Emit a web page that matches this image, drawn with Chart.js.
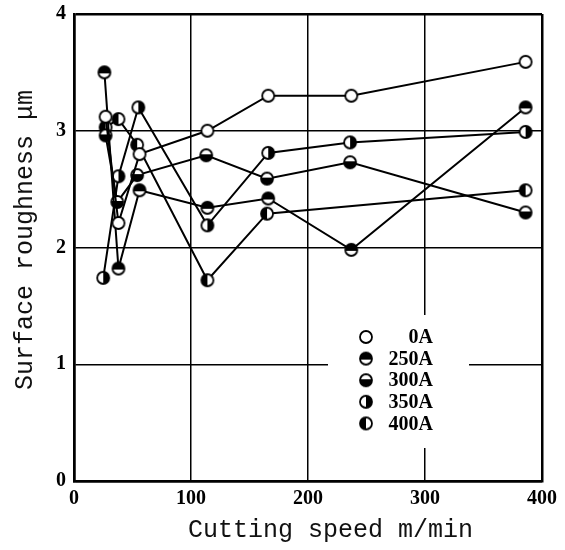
<!DOCTYPE html>
<html>
<head>
<meta charset="utf-8">
<script src="https://cdn.jsdelivr.net/npm/chart.js@4/dist/chart.umd.min.js"></script>
<style>
  body { margin: 0; background: #fff; }
  canvas { display: block; }
</style>
</head>
<body>
<canvas id="chart" width="565" height="550"></canvas>
<script>
// current labels and symbol kind for each series
const currents = ["0A", "250A", "300A", "350A", "400A"];
const symbols = ["open", "top", "bottom", "right", "left"];

// cutting speed (m/min) and surface roughness (um)
const speed0A = [27, 38, 56, 114, 166, 237, 386];
const rough0A = [3.12, 2.21, 2.80, 3.00, 3.30, 3.30, 3.59];

const speed250A = [26, 38, 56, 114, 166, 237, 386];
const rough250A = [3.50, 1.82, 2.49, 2.34, 2.42, 1.98, 3.20];

const speed300A = [27, 37, 54, 113, 165, 236, 386];
const rough300A = [2.96, 2.39, 2.62, 2.79, 2.59, 2.73, 2.30];

const speed350A = [25, 38, 55, 114, 166, 236, 386];
const rough350A = [1.74, 2.61, 3.20, 2.19, 2.81, 2.90, 2.99];

const speed400A = [27, 38, 54, 114, 165, 386];
const rough400A = [3.03, 3.10, 2.88, 1.72, 2.29, 2.49];

const xTicks = [0, 100, 200, 300, 400];
const yTicks = [0, 1, 2, 3, 4];

const speeds = [speed0A, speed250A, speed300A, speed350A, speed400A];
const roughs = [rough0A, rough250A, rough300A, rough350A, rough400A];

// half-filled circle markers
function makeSymbol(kind) {
  const c = document.createElement("canvas");
  c.width = 16; c.height = 16;
  const g = c.getContext("2d");
  const r = 6;
  g.beginPath(); g.arc(8, 8, r, 0, Math.PI * 2);
  g.fillStyle = "#fff"; g.fill();
  if (kind !== "open") {
    g.save();
    g.beginPath(); g.arc(8, 8, r, 0, Math.PI * 2); g.clip();
    g.fillStyle = "#000";
    if (kind === "top") g.fillRect(0, 0, 16, 9);
    if (kind === "bottom") g.fillRect(0, 7, 16, 9);
    if (kind === "right") g.fillRect(8, 0, 8, 16);
    if (kind === "left") g.fillRect(0, 0, 8, 16);
    g.restore();
  }
  g.beginPath(); g.arc(8, 8, r, 0, Math.PI * 2);
  g.lineWidth = 1.8; g.strokeStyle = "#000"; g.stroke();
  return c;
}

const markers = symbols.map(makeSymbol);

const datasets = currents.map((name, i) => ({
  label: name,
  data: speeds[i].map((s, j) => ({ x: s, y: roughs[i][j] })),
  showLine: true,
  borderColor: "#000",
  borderWidth: 2,
  pointStyle: markers[i],
  pointRadius: 6,
  tension: 0
}));

// legend drawn inside the plot on a white patch
const legendBox = {
  id: "legendBox",
  beforeDatasetsDraw(chart) {
    const ctx = chart.ctx;
    ctx.save();
    ctx.fillStyle = "#fff";
    ctx.fillRect(328, 315, 141, 133);
    ctx.font = "bold 20px 'Liberation Serif'";
    ctx.fillStyle = "#000";
    ctx.textAlign = "right";
    ctx.textBaseline = "middle";
    currents.forEach((name, i) => {
      const y = 337 + i * 21.6;
      ctx.drawImage(markers[i], 366 - 8, y - 8);
      ctx.fillText(name, 433, y + 1);
    });
    ctx.restore();
  }
};

const frameWidth = v => (v === 0 || v === 400 || v === 4 ? 2.5 : 1.5);

new Chart(document.getElementById("chart"), {
  type: "scatter",
  data: { datasets },
  options: {
    responsive: false,
    animation: false,
    devicePixelRatio: 1,
    layout: { padding: { left: 6, right: 23, top: 4, bottom: 0 } },
    plugins: {
      legend: { display: false },
      tooltip: { enabled: false }
    },
    scales: {
      x: {
        type: "linear",
        min: 0,
        max: 400,
        afterBuildTicks: s => { s.ticks = xTicks.map(v => ({ value: v })); },
        ticks: {
          color: "#000",
          padding: 8,
          font: { family: "'Liberation Serif'", size: 20, weight: "bold", lineHeight: 1 }
        },
        grid: {
          color: "#000",
          drawTicks: false,
          lineWidth: c => frameWidth(c.tick ? c.tick.value : 0)
        },
        border: { display: true, color: "#000", width: 2.5 },
        title: {
          display: true,
          text: "\u00a0\u00a0\u00a0Cutting speed m/min",
          color: "#111",
          font: { family: "'Liberation Mono'", size: 25, lineHeight: 1 },
          padding: { top: 1, bottom: 7 }
        }
      },
      y: {
        min: 0,
        max: 4,
        afterBuildTicks: s => { s.ticks = yTicks.map(v => ({ value: v })); },
        ticks: {
          color: "#000",
          padding: 8,
          font: { family: "'Liberation Serif'", size: 20, weight: "bold", lineHeight: 0.6 }
        },
        grid: {
          color: "#000",
          drawTicks: false,
          lineWidth: c => frameWidth(c.tick ? c.tick.value : 0)
        },
        border: { display: true, color: "#000", width: 2.5 },
        title: {
          display: true,
          text: "\u00a0Surface roughness μm",
          color: "#111",
          font: { family: "'Liberation Mono'", size: 25 },
          padding: { top: 4, bottom: 8 }
        }
      }
    }
  },
  plugins: [legendBox]
});
</script>
</body>
</html>
